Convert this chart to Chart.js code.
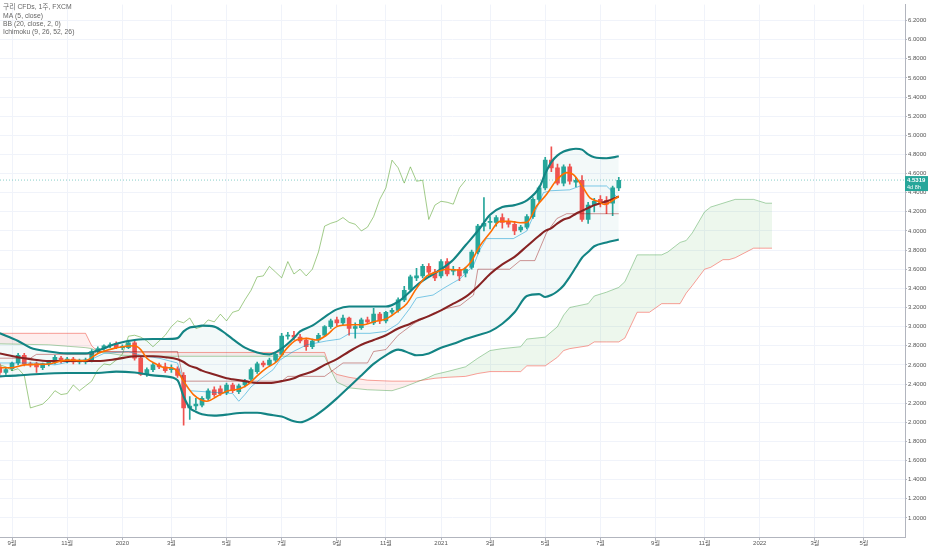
<!DOCTYPE html>
<html>
<head>
<meta charset="utf-8">
<script src="https://cdn.jsdelivr.net/npm/chart.js@4.4.0/dist/chart.umd.min.js"></script>
<style>
  html, body { margin: 0; padding: 0; background: #fff; overflow: hidden; }
</style>
</head>
<body>
<canvas id="chart" width="932" height="550"></canvas>
<script>
// weekly copper CFD candles, week 0 = 2019-08-19
const open = [2.58,2.52,2.56,2.62,2.70,2.61,2.61,2.57,2.61,2.62,2.67,2.64,2.66,2.63,2.63,2.64,2.74,2.77,2.80,2.82,
  2.78,2.78,2.83,2.67,2.50,2.55,2.60,2.58,2.55,2.56,2.49,2.15,2.17,2.18,2.25,2.34,2.35,2.31,2.39,2.32,
  2.39,2.45,2.53,2.62,2.60,2.65,2.71,2.90,2.91,2.89,2.86,2.79,2.86,2.91,3.00,3.07,3.04,3.09,2.98,2.99,
  3.07,3.04,3.13,3.06,3.15,3.17,3.28,3.39,3.51,3.53,3.63,3.57,3.53,3.68,3.58,3.60,3.56,3.62,3.78,4.05,
  4.09,4.09,4.14,4.10,4.07,4.01,4.04,4.15,4.33,4.45,4.74,4.66,4.50,4.67,4.51,4.53,4.12,4.27,4.33,4.32,
  4.29,4.45];
const high = [2.61,2.57,2.63,2.72,2.72,2.63,2.63,2.62,2.64,2.70,2.69,2.68,2.68,2.66,2.67,2.76,2.79,2.81,2.83,2.84,
  2.81,2.86,2.85,2.69,2.57,2.62,2.62,2.62,2.60,2.58,2.52,2.27,2.25,2.27,2.35,2.37,2.38,2.41,2.41,2.40,
  2.45,2.57,2.63,2.64,2.67,2.73,2.93,2.94,2.95,2.92,2.88,2.87,2.93,3.01,3.08,3.10,3.12,3.10,3.04,3.09,
  3.10,3.19,3.15,3.16,3.19,3.30,3.42,3.54,3.61,3.65,3.66,3.60,3.70,3.71,3.63,3.62,3.62,3.80,4.07,4.35,
  4.15,4.16,4.18,4.13,4.10,4.06,4.17,4.35,4.47,4.77,4.88,4.70,4.69,4.70,4.56,4.58,4.30,4.34,4.37,4.36,
  4.47,4.56];
const low = [2.50,2.50,2.54,2.60,2.59,2.58,2.52,2.55,2.59,2.61,2.62,2.62,2.61,2.61,2.61,2.63,2.72,2.75,2.78,2.77,
  2.76,2.77,2.65,2.49,2.48,2.53,2.56,2.52,2.52,2.47,1.97,2.03,2.13,2.16,2.23,2.27,2.28,2.29,2.31,2.30,
  2.37,2.43,2.51,2.58,2.59,2.63,2.70,2.87,2.86,2.83,2.75,2.77,2.84,2.90,2.98,3.01,3.02,2.91,2.88,2.97,
  3.03,3.02,3.03,3.04,3.13,3.15,3.26,3.37,3.48,3.51,3.55,3.48,3.51,3.53,3.54,3.48,3.52,3.60,3.76,4.00,
  4.02,4.05,4.03,4.04,3.96,3.99,4.02,4.13,4.30,4.43,4.62,4.48,4.47,4.49,4.46,4.10,4.08,4.20,4.25,4.18,
  4.16,4.42];
const close = [2.52,2.55,2.62,2.70,2.61,2.60,2.58,2.61,2.63,2.68,2.64,2.66,2.63,2.64,2.65,2.74,2.77,2.80,2.81,2.78,
  2.79,2.83,2.67,2.50,2.55,2.60,2.58,2.54,2.56,2.49,2.15,2.17,2.19,2.25,2.33,2.29,2.30,2.39,2.33,2.38,
  2.43,2.55,2.61,2.60,2.65,2.71,2.90,2.91,2.89,2.85,2.79,2.85,2.91,3.00,3.06,3.04,3.09,2.98,3.00,3.07,
  3.05,3.13,3.06,3.15,3.17,3.28,3.38,3.52,3.53,3.63,3.57,3.51,3.68,3.55,3.60,3.53,3.60,3.78,4.05,4.08,
  4.10,4.14,4.09,4.07,4.00,4.04,4.15,4.33,4.45,4.74,4.66,4.50,4.67,4.52,4.53,4.12,4.27,4.31,4.30,4.28,
  4.45,4.53];
const lastPrice = 4.5319;
const LAG = 25;

// MA (5, close)
const maWeeks = [0,2,4,8,11,14,16,18.5,20,22,23,24,25.5,27,28,29,30,31.6,33.8,35.4,37,39.2,40.8,41.9,43.5,
  45.2,46.8,48.4,50.1,51.7,53.3,55,57.2,59.4,61,63.2,65.1,66.4,68,69.7,71.3,72.9,75.1,76.8,78.3,
  80,81.6,83.2,84.9,86,87.6,89.2,90.9,92.5,93.6,95.2,96.3,97.6,98.7,99.8,101];
const maVals = [2.57,2.57,2.60,2.61,2.65,2.645,2.72,2.77,2.79,2.80,2.76,2.67,2.61,2.57,2.57,2.53,2.43,2.29,2.22,2.27,
  2.325,2.35,2.41,2.48,2.566,2.635,2.77,2.86,2.877,2.86,2.91,3.0,3.02,3.02,3.05,3.085,3.17,3.24,3.40,3.53,
  3.57,3.60,3.59,3.67,3.84,3.98,4.10,4.10,4.086,4.09,4.26,4.38,4.535,4.61,4.59,4.45,4.345,4.31,4.276,4.31,4.363];

// BB (20, close, 2)
const bbWeeks = [0,3,5,8,11,14,16,19,22,25,27,29,30,31,32,33,35,37,38,40,42,44,46,48,49,51,53,55,57,59,
  61,63,65,67,68,70,72,74,76,78,80,82,84,86,88,89,90,91,92,93,94,95,96,97,99,101];
const bbUpper = [2.93,2.85,2.78,2.74,2.72,2.72,2.75,2.82,2.86,2.87,2.87,2.88,2.95,2.99,3.00,3.01,3.00,2.92,2.87,2.78,
  2.73,2.71,2.77,2.88,2.95,3.01,3.10,3.18,3.21,3.21,3.21,3.21,3.26,3.37,3.43,3.52,3.60,3.70,3.85,4.00,
  4.17,4.25,4.27,4.32,4.45,4.60,4.72,4.79,4.83,4.85,4.86,4.85,4.80,4.77,4.76,4.78];
const bbMid = [2.72,2.68,2.66,2.64,2.64,2.64,2.64,2.66,2.69,2.69,2.68,2.66,2.63,2.59,2.57,2.54,2.50,2.46,2.45,2.43,
  2.41,2.41,2.43,2.46,2.49,2.53,2.60,2.66,2.74,2.81,2.86,2.91,2.98,3.03,3.06,3.11,3.17,3.24,3.31,3.42,
  3.55,3.65,3.73,3.84,3.95,4.00,4.03,4.08,4.12,4.14,4.18,4.21,4.24,4.27,4.31,4.36];
const bbLower = [2.48,2.49,2.50,2.51,2.515,2.515,2.515,2.53,2.52,2.49,2.48,2.44,2.27,2.15,2.11,2.085,2.07,2.08,2.09,2.10,
  2.10,2.08,2.06,2.01,2.00,2.05,2.14,2.25,2.37,2.49,2.61,2.70,2.76,2.72,2.70,2.72,2.78,2.82,2.87,2.91,
  2.95,3.03,3.15,3.32,3.34,3.31,3.33,3.37,3.43,3.52,3.62,3.72,3.78,3.84,3.88,3.91];

// Ichimoku (9, 26, 52, 26)
const tenkanWeeks = [0,6,9,12,15,17,21,23,26,29,30,31,38,39,40,41,42.5,44.6,45.7,47.9,50.1,53.3,55.5,57.1,60.4,
  63,65,66.9,68,70.7,72.4,74,75.1,77.3,78.3,79.4,83.8,86,88.7,89.8,93,94.7,99,99.8,100.6,101];
const tenkanVals = [2.62,2.62,2.60,2.64,2.66,2.72,2.74,2.70,2.67,2.62,2.41,2.33,2.30,2.22,2.29,2.37,2.45,2.55,2.65,2.74,
  2.81,2.85,2.87,2.93,2.93,2.95,3.03,3.19,3.30,3.33,3.40,3.46,3.50,3.64,3.80,3.92,3.92,4.00,4.40,4.42,
  4.43,4.47,4.47,4.42,4.36,4.36];
const kijunWeeks = [0,5,6,15,16,29,30,46,47,53,56,60,61,63,65,67.5,70.7,72.9,75.1,77.3,78,83.2,84.9,87.3,89.2,
  90.9,92.5,101];
const kijunVals = [2.67,2.67,2.71,2.71,2.74,2.74,2.43,2.43,2.48,2.48,2.62,2.62,2.74,2.76,2.91,3.03,3.14,3.19,3.22,3.33,
  3.60,3.60,3.69,3.69,3.98,4.13,4.18,4.18];
const cloudWeeks = [0,8,14,15,16,20,26,53,54,55,57,60,64,66,68,70,71,73,76,78,80,82,85,86,89,91,92,93,96,97,
  99,101,102,104,106,108,109,111,112,113,115,116,118,119,120,123,125,126];
const spanA = [2.82,2.81,2.78,2.77,2.74,2.70,2.69,2.69,2.55,2.42,2.36,2.34,2.33,2.37,2.42,2.47,2.50,2.53,2.58,2.67,
  2.75,2.77,2.79,2.87,2.89,3.00,3.12,3.20,3.24,3.32,3.36,3.41,3.47,3.75,3.75,3.75,3.78,3.88,3.90,3.98,
  4.20,4.25,4.29,4.31,4.33,4.33,4.29,4.29];
const spanB = [2.93,2.93,2.93,2.80,2.74,2.73,2.73,2.73,2.55,2.50,2.47,2.44,2.43,2.43,2.43,2.45,2.46,2.47,2.48,2.51,
  2.53,2.53,2.53,2.59,2.59,2.68,2.75,2.77,2.80,2.84,2.84,2.84,2.88,3.15,3.15,3.24,3.24,3.24,3.35,3.43,
  3.60,3.62,3.70,3.70,3.72,3.82,3.82,3.82];

// axes
const xTickWeeks = [2,11,20,28,37,46,55,63,72,80,89,98,107,115,124,133,141];
const xTickLabels = ['9월','11월','2020','3월','5월','7월','9월','11월','2021','3월','5월','7월','9월','11월','2022','3월','5월'];
const yTicks = [1.0,1.2,1.4,1.6,1.8,2.0,2.2,2.4,2.6,2.8,3.0,3.2,3.4,3.6,3.8,4.0,4.2,4.4,4.6,4.8,5.0,5.2,5.4,5.6,5.8,6.0,6.2];
const titleLines = ['구리 CFDs, 1주, FXCM', 'MA (5, close)', 'BB (20, close, 2, 0)', 'Ichimoku (9, 26, 52, 26)'];

const X_MIN = 0.04, X_MAX = 147.7;
const Y_MIN = 0.801, Y_MAX = 6.366;
const UP = '#26a69a', DOWN = '#ef5350';
const FONT = '"Liberation Sans", "Noto Sans CJK KR", sans-serif';

function pts(xs, ys) {
  return xs.map((x, i) => ({ x: x, y: ys[i] }));
}
const candleColor = (ctx) => close[ctx.dataIndex] >= open[ctx.dataIndex] ? UP : DOWN;

const overlay = {
  id: 'overlay',
  afterDraw(chart) {
    const ctx = chart.ctx;
    const py = chart.scales.y.getPixelForValue(lastPrice);
    ctx.save();
    ctx.font = '6.8px ' + FONT;
    ctx.fillStyle = '#666';
    ctx.textBaseline = 'middle';
    titleLines.forEach((t, i) => ctx.fillText(t, 3, 7.5 + i * 8.3));
    ctx.fillStyle = UP;
    ctx.fillRect(905, py - 4, 23, 15);
    ctx.fillStyle = '#fff';
    ctx.font = 'bold 6px ' + FONT;
    ctx.fillText(lastPrice.toFixed(4), 907, py + 0.5);
    ctx.font = '5.5px ' + FONT;
    ctx.fillText('4d 8h', 907, py + 7);
    ctx.restore();
  }
};

new Chart(document.getElementById('chart'), {
  type: 'line',
  data: {
    datasets: [
      { // 0 leading span A
        data: pts(cloudWeeks, spanA), borderColor: 'rgba(67,160,71,0.45)', borderWidth: 1,
        pointRadius: 0, tension: 0, order: 30,
        fill: { target: 1, above: 'rgba(76,175,80,0.10)', below: 'rgba(244,67,54,0.09)' }
      },
      { // 1 leading span B
        data: pts(cloudWeeks, spanB), borderColor: 'rgba(244,67,54,0.5)', borderWidth: 1,
        pointRadius: 0, tension: 0, order: 30, fill: false
      },
      { // 2 BB upper
        data: pts(bbWeeks, bbUpper), borderColor: '#138484', borderWidth: 2.1,
        pointRadius: 0, cubicInterpolationMode: 'monotone', order: 4,
        fill: { target: 3, above: 'rgba(19,132,132,0.05)', below: 'rgba(19,132,132,0.05)' }
      },
      { // 3 BB lower
        data: pts(bbWeeks, bbLower), borderColor: '#138484', borderWidth: 2.1,
        pointRadius: 0, cubicInterpolationMode: 'monotone', order: 4, fill: false
      },
      { // 4 wicks
        type: 'bar', data: close.map((c, i) => ({ x: i, y: [low[i], high[i]] })),
        backgroundColor: candleColor, barThickness: 1, grouped: false, order: 20
      },
      { // 5 bodies
        type: 'bar', data: close.map((c, i) => ({ x: i, y: [open[i], c] })),
        backgroundColor: candleColor, barThickness: 4, minBarLength: 1, grouped: false, order: 19
      },
      { // 6 conversion line
        data: pts(tenkanWeeks, tenkanVals), borderColor: 'rgba(0,150,210,0.5)', borderWidth: 1,
        pointRadius: 0, tension: 0, order: 10, fill: false
      },
      { // 7 base line
        data: pts(kijunWeeks, kijunVals), borderColor: 'rgba(153,21,21,0.45)', borderWidth: 1,
        pointRadius: 0, tension: 0, order: 10, fill: false
      },
      { // 8 lagging span
        data: close.slice(LAG).map((c, i) => ({ x: i, y: c })), borderColor: 'rgba(69,153,21,0.5)',
        borderWidth: 1, pointRadius: 0, tension: 0, order: 10, fill: false
      },
      { // 9 BB basis
        data: pts(bbWeeks, bbMid), borderColor: '#872323', borderWidth: 2.1,
        pointRadius: 0, cubicInterpolationMode: 'monotone', order: 3, fill: false
      },
      { // 10 MA 5
        data: pts(maWeeks, maVals), borderColor: '#ff6d00', borderWidth: 1.6,
        pointRadius: 0, cubicInterpolationMode: 'monotone', order: 1, fill: false
      },
      { // 11 last price line
        data: [{ x: X_MIN, y: lastPrice }, { x: X_MAX, y: lastPrice }],
        borderColor: 'rgba(38,166,154,0.55)', borderWidth: 1, borderDash: [1, 2],
        pointRadius: 0, order: 0, fill: false
      }
    ]
  },
  options: {
    responsive: false,
    animation: false,
    events: [],
    layout: { padding: 0 },
    plugins: {
      legend: { display: false },
      tooltip: { enabled: false },
      filler: { drawTime: 'beforeDatasetsDraw' }
    },
    scales: {
      x: {
        type: 'linear', min: X_MIN, max: X_MAX, offset: false,
        grid: { color: '#f0f3fa', offset: false, tickLength: 3, tickColor: '#b2b5be' },
        border: { color: '#b2b5be' },
        ticks: {
          autoSkip: false, maxRotation: 0, padding: 0, color: '#555',
          font: { size: 6, family: FONT },
          callback: (v, i) => xTickLabels[i]
        },
        afterBuildTicks: (s) => { s.ticks = xTickWeeks.map(v => ({ value: v })); },
        afterFit: (s) => { s.height = 13; }
      },
      y: {
        type: 'linear', position: 'right', min: Y_MIN, max: Y_MAX,
        grid: { color: '#f0f3fa', tickLength: 2, tickColor: '#b2b5be' },
        border: { color: '#b2b5be' },
        ticks: {
          padding: 1, color: '#555', font: { size: 6, family: FONT },
          callback: (v) => v.toFixed(4)
        },
        afterBuildTicks: (s) => { s.ticks = yTicks.map(v => ({ value: v })); },
        afterFit: (s) => { s.width = 27; }
      }
    }
  },
  plugins: [overlay]
});
</script>
</body>
</html>
